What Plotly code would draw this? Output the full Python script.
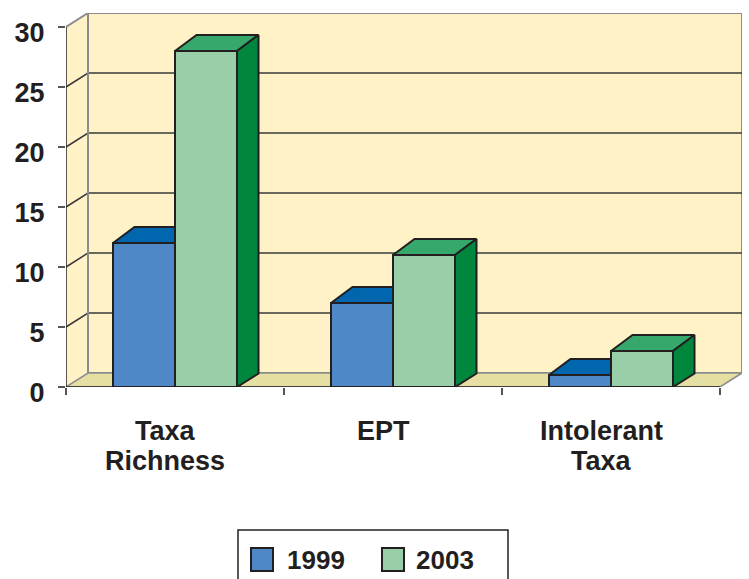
import plotly.graph_objects as go

# ---------------- data ----------------
CATEGORIES = ["Taxa<br>Richness", "EPT", "Intolerant<br>Taxa"]
SERIES = ["1999", "2003"]
VALUES_1999 = [12, 7, 1]
VALUES_2003 = [28, 11, 3]
Y_TICKS = [0, 5, 10, 15, 20, 25, 30]

# ---------------- styling ----------------
W, H = 749, 579
L, R, T, B = 66, 7, 13, 192
PW = W - L - R
PH = H - T - B

N = len(CATEGORIES)
YMAX = Y_TICKS[-1]

FLOOR_DX_PX, FLOOR_DY_PX = 22.0, 14.0
XPX = (PW - FLOOR_DX_PX) / N          # px per category
YPX = (PH - FLOOR_DY_PX) / YMAX       # px per unit
DX = FLOOR_DX_PX / XPX
DY = FLOOR_DY_PX / YPX
BDX = 21.5 / XPX                      # bar depth (x)
BDY_TOP = 16.0 / YPX                  # bar depth at top (y)
BDY_BOT = 13.5 / YPX                  # bar depth at floor (y)
BAR_W = 62.0 / XPX

WALL = "#FFF2C6"
FLOOR = "#E5DFA3"
WALL_LINE = "#8C8C8C"
GRID = "#3A3A3A"
INK = "#231F20"
BLUE_FRONT = "#4F88C6"
BLUE_TOP = "#0066AE"
GREEN_FRONT = "#98CEA8"
GREEN_TOP = "#36A86C"
GREEN_SIDE = "#00873D"
FONT = "Liberation Sans, Arial, sans-serif"


def px2paper_x(px):
    return (px - L) / PW


def px2paper_y(py):
    return (H - B - py) / PH


def path(points, close=True):
    s = "M " + " L ".join(f"{x},{y}" for x, y in points)
    return s + (" Z" if close else "")


shapes = []
# left side wall
shapes.append(dict(type="path", xref="x", yref="y", layer="below",
                   path=path([(0, 0), (DX, DY), (DX, YMAX + DY), (0, YMAX)]),
                   fillcolor=WALL, line=dict(width=0)))
# back wall
shapes.append(dict(type="rect", xref="x", yref="y", layer="below",
                   x0=DX, y0=DY, x1=N + DX, y1=YMAX + DY,
                   fillcolor=WALL, line=dict(color=WALL_LINE, width=2)))
# floor
shapes.append(dict(type="path", xref="x", yref="y", layer="below",
                   path=path([(0, 0), (N, 0), (N + DX, DY), (DX, DY)]),
                   fillcolor=FLOOR, line=dict(color=WALL_LINE, width=1.5)))
# gridlines (diagonal on side wall + across back wall)
for v in Y_TICKS[1:-1]:
    shapes.append(dict(type="path", xref="x", yref="y", layer="below",
                       path=path([(0, v), (DX, v + DY), (N + DX, v + DY)], close=False),
                       fillcolor="rgba(0,0,0,0)", line=dict(color=GRID, width=1.5)))
# top edge of side wall
shapes.append(dict(type="line", xref="x", yref="y", layer="below",
                   x0=0, y0=YMAX, x1=DX, y1=YMAX + DY,
                   line=dict(color=WALL_LINE, width=2)))
# left wall vertical back edge
shapes.append(dict(type="line", xref="x", yref="y", layer="below",
                   x0=DX, y0=DY, x1=DX, y1=YMAX + DY,
                   line=dict(color=WALL_LINE, width=2)))
# value axis line
shapes.append(dict(type="line", xref="x", yref="y", layer="below",
                   x0=0, y0=0, x1=0, y1=YMAX,
                   line=dict(color=INK, width=1.5)))
# category axis line
shapes.append(dict(type="line", xref="x", yref="y", layer="below",
                   x0=0, y0=0, x1=N, y1=0,
                   line=dict(color=INK, width=1.5)))

centers = [i + 0.5 for i in range(N)]

fig = go.Figure()
fig.add_trace(go.Bar(x=[c - BAR_W / 2 for c in centers], y=VALUES_1999, width=BAR_W,
                     name=SERIES[0], marker=dict(color=BLUE_FRONT, line=dict(color=INK, width=2)),
                     showlegend=False, hoverinfo="skip"))
fig.add_trace(go.Bar(x=[c + BAR_W / 2 for c in centers], y=VALUES_2003, width=BAR_W,
                     name=SERIES[1], marker=dict(color=GREEN_FRONT, line=dict(color=INK, width=2)),
                     showlegend=False, hoverinfo="skip"))


def poly(points, color):
    xs = [p[0] for p in points] + [points[0][0]]
    ys = [p[1] for p in points] + [points[0][1]]
    fig.add_trace(go.Scatter(x=xs, y=ys, mode="lines", fill="toself", fillcolor=color,
                             line=dict(color=INK, width=2), showlegend=False,
                             hoverinfo="skip"))


for c, b, g in zip(centers, VALUES_1999, VALUES_2003):
    x0, x1, x2 = c - BAR_W, c, c + BAR_W
    # top of 1999 bar (part not hidden by the 2003 bar)
    poly([(x0, b), (x1, b), (x1, b + BDY_TOP), (x0 + BDX, b + BDY_TOP)], BLUE_TOP)
    # top of 2003 bar
    poly([(x1, g), (x2, g), (x2 + BDX, g + BDY_TOP), (x1 + BDX, g + BDY_TOP)], GREEN_TOP)
    # side of 2003 bar
    poly([(x2, 0), (x2 + BDX, BDY_BOT), (x2 + BDX, g + BDY_TOP), (x2, g)], GREEN_SIDE)

annotations = []
LINE_GAP = 30
FIRST_LINE_Y = 431
for c, label in zip(centers, CATEGORIES):
    for k, line in enumerate(label.split("<br>")):
        annotations.append(dict(xref="x", yref="paper", x=c, xshift=-10,
                                y=px2paper_y(FIRST_LINE_Y + k * LINE_GAP),
                                text=line, showarrow=False, xanchor="center", yanchor="middle",
                                font=dict(family=FONT, size=27, color=INK, weight="bold")))

# legend (drawn by hand for full-size swatches)
shapes.append(dict(type="rect", xref="paper", yref="paper",
                   x0=px2paper_x(238), x1=px2paper_x(508),
                   y0=px2paper_y(600), y1=px2paper_y(530),
                   fillcolor="white", line=dict(color=INK, width=1.5)))
legend_items = [(SERIES[0], BLUE_FRONT, 251, 285), (SERIES[1], GREEN_FRONT, 382, 414)]
for name, color, sx, tx in legend_items:
    shapes.append(dict(type="rect", xref="paper", yref="paper",
                       x0=px2paper_x(sx), x1=px2paper_x(sx + 22),
                       y0=px2paper_y(571), y1=px2paper_y(548),
                       fillcolor=color, line=dict(color=INK, width=2)))
    annotations.append(dict(xref="paper", yref="paper", x=px2paper_x(tx), y=px2paper_y(560),
                            text=name, showarrow=False, xanchor="left", yanchor="middle",
                            font=dict(family=FONT, size=26, color=INK, weight="bold")))

fig.update_layout(
    width=W, height=H,
    margin=dict(l=L, r=R, t=T, b=B, pad=0, autoexpand=False),
    paper_bgcolor="white", plot_bgcolor="white",
    barmode="overlay",
    shapes=shapes, annotations=annotations,
    showlegend=False,
    xaxis=dict(range=[0, N + DX], showgrid=False, zeroline=False, showline=False,
               tickmode="array", tickvals=list(range(N + 1)), ticks="outside",
               ticklen=7, tickwidth=1.5, tickcolor="#555555", showticklabels=False,
               fixedrange=True, automargin=False),
    yaxis=dict(range=[0, YMAX + DY], showgrid=False, zeroline=False, showline=False,
               tickmode="array", tickvals=Y_TICKS, ticktext=[str(v) for v in Y_TICKS],
               ticks="outside", ticklen=7, tickwidth=1.5, tickcolor="#555555",
               tickfont=dict(family=FONT, size=27, color=INK, weight="bold"),
               ticklabelstandoff=8, ticklabelshift=6, fixedrange=True, automargin=False),
)

fig.write_html("out.html", config={"displayModeBar": False},
               post_script="document.body.style.margin='0';document.body.style.overflow='hidden';")
